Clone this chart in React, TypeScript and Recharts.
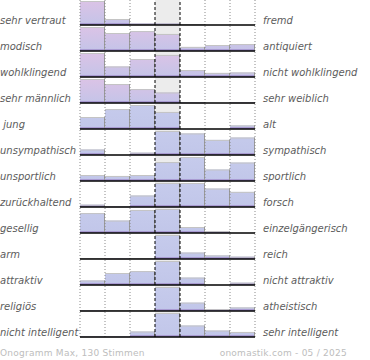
import { Bar, BarChart, ReferenceArea, ReferenceLine, XAxis, YAxis } from "recharts";

const bins = [1, 2, 3, 4, 5, 6, 7];

const leftLabels = [
  "sehr vertraut",
  "modisch",
  "wohlklingend",
  "sehr männlich",
  " jung",
  "unsympathisch",
  "unsportlich",
  "zurückhaltend",
  "gesellig",
  "arm",
  "attraktiv",
  "religiös",
  "nicht intelligent",
];

const rightLabels = [
  "fremd",
  "antiquiert",
  "nicht wohlklingend",
  "sehr weiblich",
  "alt",
  "sympathisch",
  "sportlich",
  "forsch",
  "einzelgängerisch",
  "reich",
  "nicht attraktiv",
  "atheistisch",
  "sehr intelligent",
];

// share of each answer bin, relative to the most chosen bin of the row (=100)
const shares = [
  [100, 25, 6, 6, 4, 0, 0],
  [100, 75, 83, 71, 17, 25, 29],
  [100, 44, 75, 92, 29, 17, 19],
  [100, 79, 58, 44, 2, 0, 2],
  [50, 83, 100, 71, 0, 0, 15],
  [23, 0, 10, 100, 90, 63, 73],
  [25, 21, 25, 79, 100, 48, 77],
  [10, 2, 48, 100, 100, 77, 63],
  [83, 52, 96, 100, 25, 8, 0],
  [4, 2, 4, 100, 27, 15, 10],
  [19, 50, 58, 100, 31, 0, 10],
  [2, 4, 4, 100, 35, 8, 15],
  [2, 2, 23, 100, 48, 27, 21],
];

const footerLeft = "Onogramm Max, 130 Stimmen";
const footerRight = "onomastik.com - 05 / 2025";

const ROW_H = 26;
const PLOT_LEFT = 80;
const PLOT_W = 175;
const FONT = "'DejaVu Sans', Verdana, sans-serif";

function BarShape(props: any) {
  const { x, y, width, height, gradId } = props;
  if (!height || height <= 0) return null;
  const strip = Math.min(2, height);
  return (
    <g>
      <rect x={x} y={y} width={width} height={height} fill={`url(#${gradId})`} />
      <rect x={x} y={y + height - strip} width={width} height={strip} fill="#a99bd2" />
      <line x1={x} x2={x + width} y1={y + 0.5} y2={y + 0.5} stroke="#c4c4c4" />
      <line
        x1={x + width - 0.5}
        x2={x + width - 0.5}
        y1={y}
        y2={y + height}
        stroke="#9a9a9a"
      />
    </g>
  );
}

function RowChart({ values, row }: { values: number[]; row: number }) {
  const data = bins.map((bin, i) => ({ bin, value: values[i] }));
  const gradId = `bars-${row}`;
  const pink = row < 4;
  return (
    <BarChart
      width={PLOT_W + 2}
      height={ROW_H}
      data={data}
      margin={{ top: 0, right: 1, bottom: 1, left: 1 }}
      barCategoryGap={0}
      barGap={0}
    >
      <defs>
        <linearGradient id={gradId} x1="0" y1="0" x2="0" y2={ROW_H} gradientUnits="userSpaceOnUse">
          <stop offset="0%" stopColor={pink ? "#dcc3e6" : "#c6cbec"} />
          <stop offset="100%" stopColor={pink ? "#c3c4e8" : "#c1c6e9"} />
        </linearGradient>
      </defs>
      <XAxis dataKey="bin" type="category" hide />
      <YAxis type="number" domain={[0, 104.2]} hide />
      <ReferenceArea x1={4} x2={4} fill="#ececec" fillOpacity={1} stroke="none" />
      {[1, 2, 3, 6, 7].map((b) => (
        <ReferenceLine
          key={b}
          x={b}
          position="start"
          stroke="#8a8a8a"
          strokeDasharray="1 2"
        />
      ))}
      <ReferenceLine x={7} position="end" stroke="#8a8a8a" strokeDasharray="1 2" />
      <Bar
        dataKey="value"
        isAnimationActive={false}
        shape={(p: any) => <BarShape {...p} gradId={gradId} />}
      />
      <ReferenceLine x={4} position="start" stroke="#000" strokeDasharray="3 2" />
      <ReferenceLine x={4} position="end" stroke="#000" strokeDasharray="3 2" />
      <ReferenceLine y={0} stroke="#000" strokeWidth={1.6} />
    </BarChart>
  );
}

export default function App() {
  return (
    <div
      style={{
        position: "absolute",
        left: 0,
        top: 0,
        width: 370,
        height: 360,
        background: "#fff",
      }}
    >
      <svg width={370} height={360} style={{ position: "absolute", left: 0, top: 0 }}>
        {leftLabels.map((label, i) => (
          <text
            key={`l${i}`}
            x={0}
            y={i * ROW_H + 23.5}
            fontFamily={FONT}
            fontSize={10}
            fontStyle="italic"
            fill="#5c5c5c"
            style={{ whiteSpace: "pre" }}
          >
            {label}
          </text>
        ))}
        {rightLabels.map((label, i) => (
          <text
            key={`r${i}`}
            x={263}
            y={i * ROW_H + 23.5}
            fontFamily={FONT}
            fontSize={10}
            fontStyle="italic"
            fill="#5c5c5c"
          >
            {label}
          </text>
        ))}
        <text x={0} y={356} fontFamily={FONT} fontSize={9} letterSpacing={0.25} fill="#bdbdbd">
          {footerLeft}
        </text>
        <text
          x={347}
          y={356}
          textAnchor="end"
          fontFamily={FONT}
          fontSize={9}
          letterSpacing={0.25}
          fill="#bdbdbd"
        >
          {footerRight}
        </text>
      </svg>
      {shares.map((values, i) => (
        <div
          key={i}
          style={{ position: "absolute", left: PLOT_LEFT - 1, top: i * ROW_H }}
        >
          <RowChart values={values} row={i} />
        </div>
      ))}
    </div>
  );
}
